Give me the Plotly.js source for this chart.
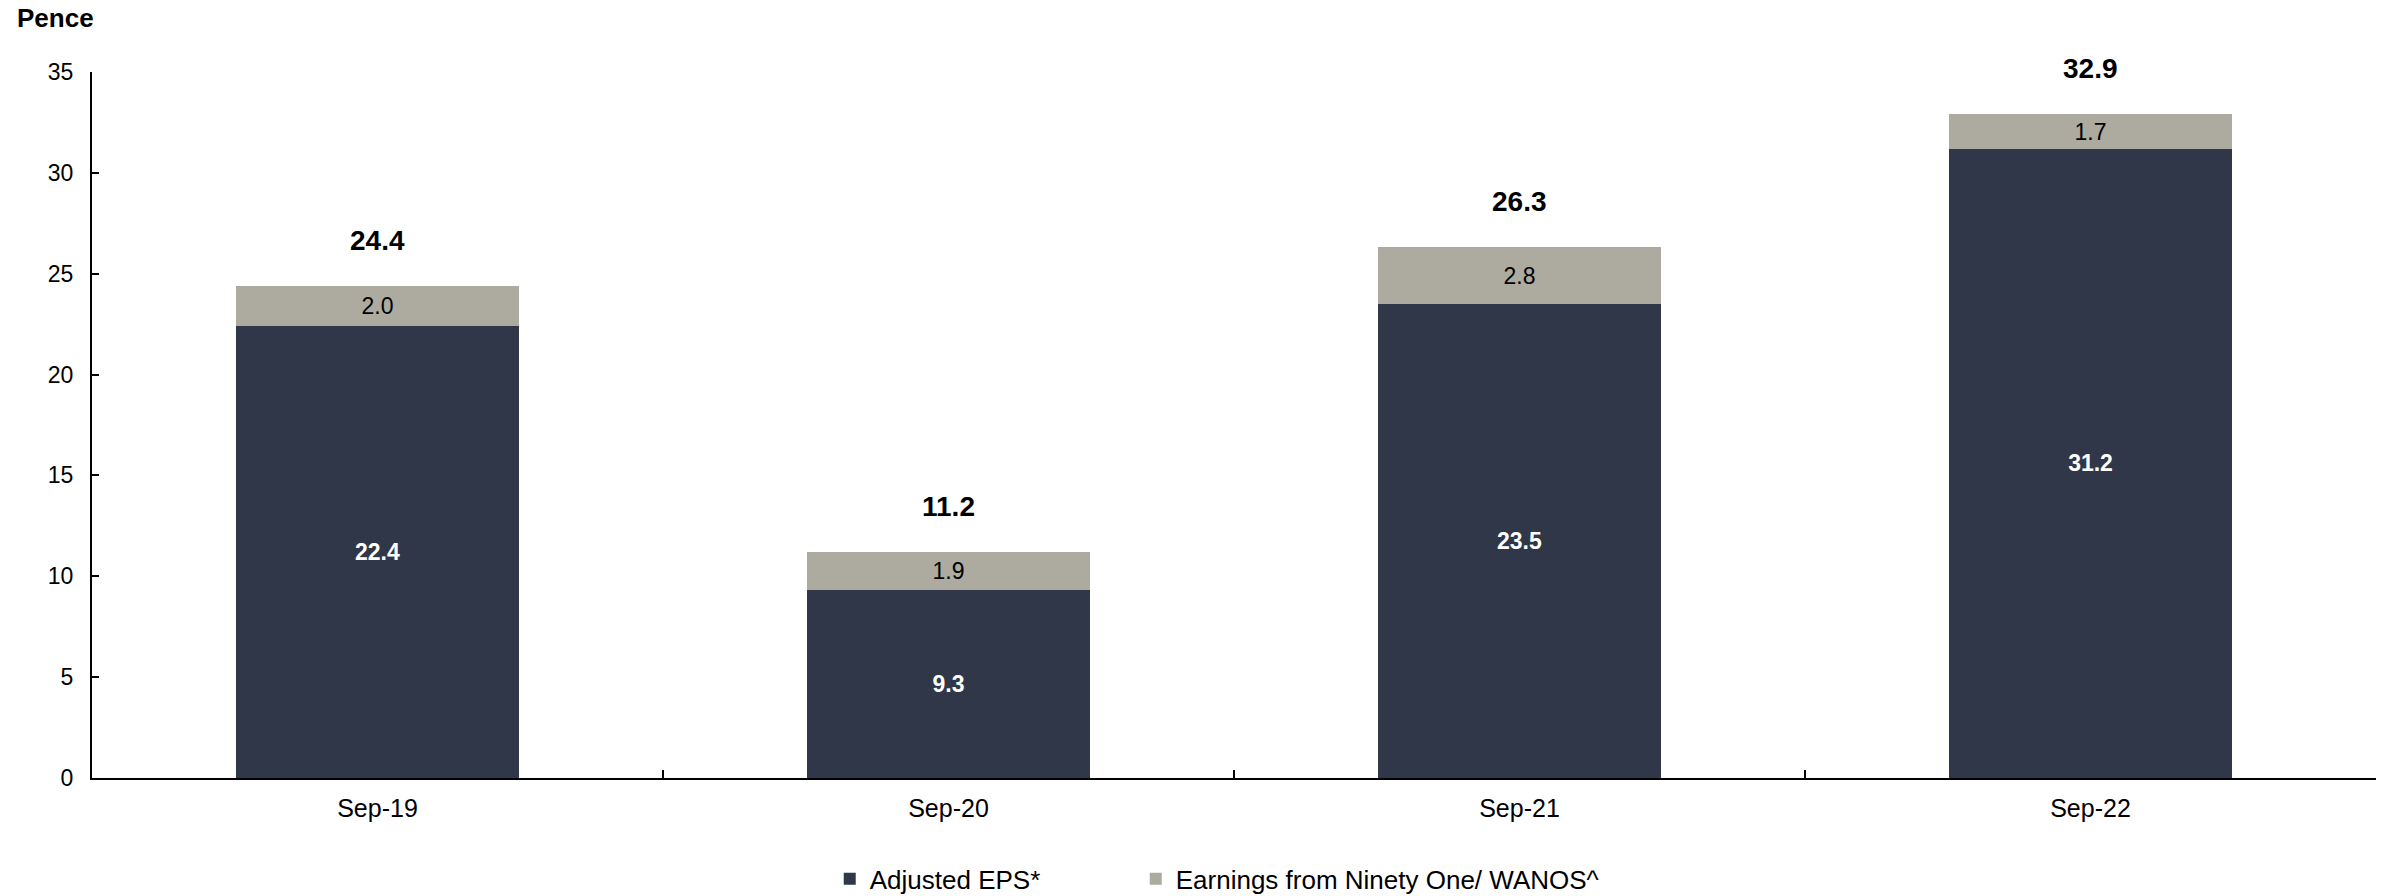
<!DOCTYPE html>
<html>
<head>
<meta charset="utf-8">
<script src="https://cdn.plot.ly/plotly-3.0.1.min.js"></script>
<style>html,body{margin:0;padding:0;background:#fff;}#chart{width:2387px;height:896px;}</style>
</head>
<body>
<div id="chart"></div>
<script>
const categories = ["Sep-19", "Sep-20", "Sep-21", "Sep-22"];
const adjustedEPS = [22.4, 9.3, 23.5, 31.2];
const ninetyOne = [2.0, 1.9, 2.8, 1.7];
const yTicks = [0, 5, 10, 15, 20, 25, 30, 35];
const seriesNames = ["Adjusted EPS*", "Earnings from Ninety One/ WANOS^"];
const FONT = "Arial, 'Liberation Sans', Helvetica, sans-serif";

const totals = adjustedEPS.map((v, i) => v + ninetyOne[i]);

const traces = [
  {
    type: "bar", name: seriesNames[0], x: categories, y: adjustedEPS,
    marker: {color: "#2F3748"}, legendwidth: 261,
    texttemplate: "<b>%{y:.1f}</b>", textposition: "inside", insidetextanchor: "middle",
    textangle: 0, textfont: {color: "#FFFFFF", size: 23, family: FONT},
    hoverinfo: "skip"
  },
  {
    type: "bar", name: seriesNames[1], x: categories, y: ninetyOne,
    marker: {color: "#ADAB9F"}, legendwidth: 520,
    texttemplate: "%{y:.1f}", textposition: "inside", insidetextanchor: "middle",
    textangle: 0, textfont: {color: "#000000", size: 23, family: FONT},
    hoverinfo: "skip"
  }
];

const annotations = categories.map((c, i) => ({
  x: c, y: totals[i], xref: "x", yref: "y",
  text: "<b>" + totals[i].toFixed(1) + "</b>",
  showarrow: false, yanchor: "bottom", yshift: 28,
  font: {size: 28, color: "#000", family: FONT}
}));
annotations.push({
  xref: "paper", yref: "paper", x: 0, y: 1, xanchor: "left", yanchor: "middle",
  xshift: -77, yshift: 54, showarrow: false,
  text: "<b>Pence</b>", font: {size: 26, color: "#000", family: FONT}
});

const layout = {
  width: 2387, height: 896,
  margin: {l: 92, r: 11, t: 72, b: 118, pad: 0, autoexpand: false},
  paper_bgcolor: "#fff", plot_bgcolor: "#fff",
  barmode: "stack", bargap: 0.506,
  font: {family: FONT, size: 23, color: "#000"},
  xaxis: {
    type: "category", showline: true, linecolor: "#000", linewidth: 2,
    ticks: "inside", tickson: "boundaries", ticklen: 8, tickcolor: "#000", tickwidth: 1.5,
    showgrid: false, zeroline: false, ticklabelstandoff: 7,
    tickfont: {size: 25, family: FONT, color: "#000"}
  },
  yaxis: {
    range: [0, 35], tickvals: yTicks, ticktext: yTicks.map(String),
    showline: true, linecolor: "#000", linewidth: 2,
    ticks: "inside", ticklen: 7, tickcolor: "#000", tickwidth: 2,
    showgrid: false, zeroline: false, ticklabelstandoff: 12,
    tickfont: {size: 23, family: FONT, color: "#000"}
  },
  showlegend: true,
  legend: {
    orientation: "h", x: 0.323, xanchor: "left", y: -0.143, yanchor: "middle",
    entrywidthmode: "pixels",
    font: {size: 26, family: FONT, color: "#000"},
    traceorder: "normal", itemclick: false, itemdoubleclick: false
  },
  annotations: annotations
};

Plotly.newPlot("chart", traces, layout, {displayModeBar: false, staticPlot: true});
</script>
</body>
</html>
